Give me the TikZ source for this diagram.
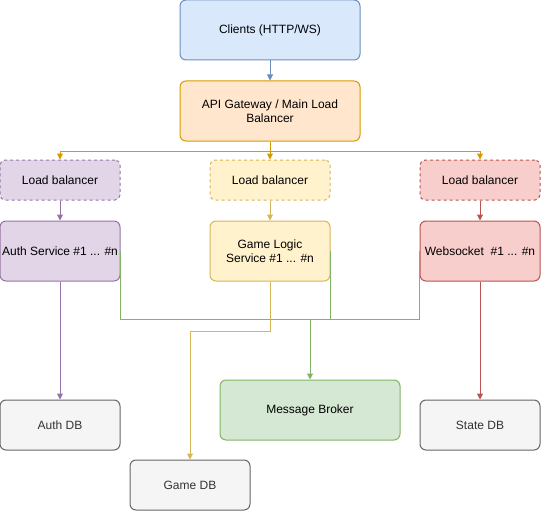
\documentclass[tikz,border=0pt]{standalone}
\usepackage{fontspec}
\setmainfont{Liberation Sans}
\usepackage{tikz}
\usetikzlibrary{arrows.meta,calc,positioning}
\definecolor{blueF}{HTML}{DAE8FC}\definecolor{blueD}{HTML}{6C8EBF}
\definecolor{orangeF}{HTML}{FFE6CC}\definecolor{orangeD}{HTML}{D79B00}
\definecolor{purpleF}{HTML}{E1D5E7}\definecolor{purpleD}{HTML}{9673A6}
\definecolor{yellowF}{HTML}{FFF2CC}\definecolor{yellowD}{HTML}{D6B656}
\definecolor{redF}{HTML}{F8CECC}\definecolor{redD}{HTML}{B85450}
\definecolor{greenF}{HTML}{D5E8D4}\definecolor{greenD}{HTML}{82B366}
\definecolor{grayF}{HTML}{F5F5F5}\definecolor{grayD}{HTML}{666666}
\definecolor{grayT}{HTML}{333333}
\tikzset{
	arch diagram/.style={
		x=1pt, y=-1pt,
		line width=1pt,
		node distance=20pt and 20pt,
		>={Triangle[length=6pt,width=6pt]},
		every node/.style={font=\fontsize{12}{14}\selectfont, align=center, inner sep=0pt}
		},
	box/.style 2 args={draw=#1D, fill=#1F, rounded corners=6pt,
		minimum width=120pt, minimum height=60pt},
	lb/.style={box={#1}{#1}, dash pattern=on 3pt off 3pt, rounded corners=5pt, minimum height=40pt},
	db/.style={box={gray}{gray}, minimum height=50pt, text=grayT},
	wire/.style={draw=#1D, ->}
}
\begin{document}
\begin{tikzpicture}[arch diagram]
	\useasboundingbox (0,0) rectangle (541,511);
	\node[box={blue}{blue}, minimum width=180pt] (clients) at (270,30) {Clients (HTTP/WS)};
	\node[box={orange}{orange}, minimum width=180pt, below=20pt of clients] (gateway) {API Gateway / Main Load\\Balancer};
	\node[lb=purple] (lbAuth) at (60,180) {Load balancer};
	\node[lb=yellow] (lbGame) at (270,180) {Load balancer};
	\node[lb=red] (lbWs) at (480,180) {Load balancer};
	\node[box={purple}{purple}, below=20pt of lbAuth] (auth) {Auth Service \#1 ... \#n};
	\node[box={yellow}{yellow}, below=20pt of lbGame] (game) {Game Logic\\Service \#1 ... \#n};
	\node[box={red}{red}, below=20pt of lbWs] (ws) {Websocket\ \ \#1 ... \#n};
	\node[box={green}{green}, minimum width=180pt] (broker) at (310,410) {Message Broker};
	\node[db] (authDB) at (60,425) {Auth DB};
	\node[db] (stateDB) at (480,425) {State DB};
	\node[db] (gameDB) at (190,485) {Game DB};
	\coordinate (split) at ($(gateway.south)+(0,10)$);
	\coordinate (bus) at ($(broker.north)+(0,-60)$);
	\draw[wire=blue] (clients) -- (gateway);
	\draw[draw=orangeD] (gateway) -- (split);
	\draw[wire=orange] (split) -| (lbAuth);
	\draw[wire=orange] (split) -- (lbGame);
	\draw[wire=orange] (split) -| (lbWs);
	\draw[wire=purple] (lbAuth) -- (auth);
	\draw[wire=yellow] (lbGame) -- (game);
	\draw[wire=red] (lbWs) -- (ws);
	% services to the broker
	\draw[draw=greenD] (auth.east) |- (bus);
	\draw[draw=greenD] (ws.west) |- (bus);
	\draw[draw=greenD] (game.east) -- (game.east |- bus);
	\draw[wire=green] (bus) -- (broker);
	% services to their stores
	\draw[wire=purple] (auth) -- (authDB);
	\draw[wire=red] (ws) -- (stateDB);
	\draw[wire=yellow] (game.south) -- ++(0,50) -| (gameDB);
\end{tikzpicture}
\end{document}
